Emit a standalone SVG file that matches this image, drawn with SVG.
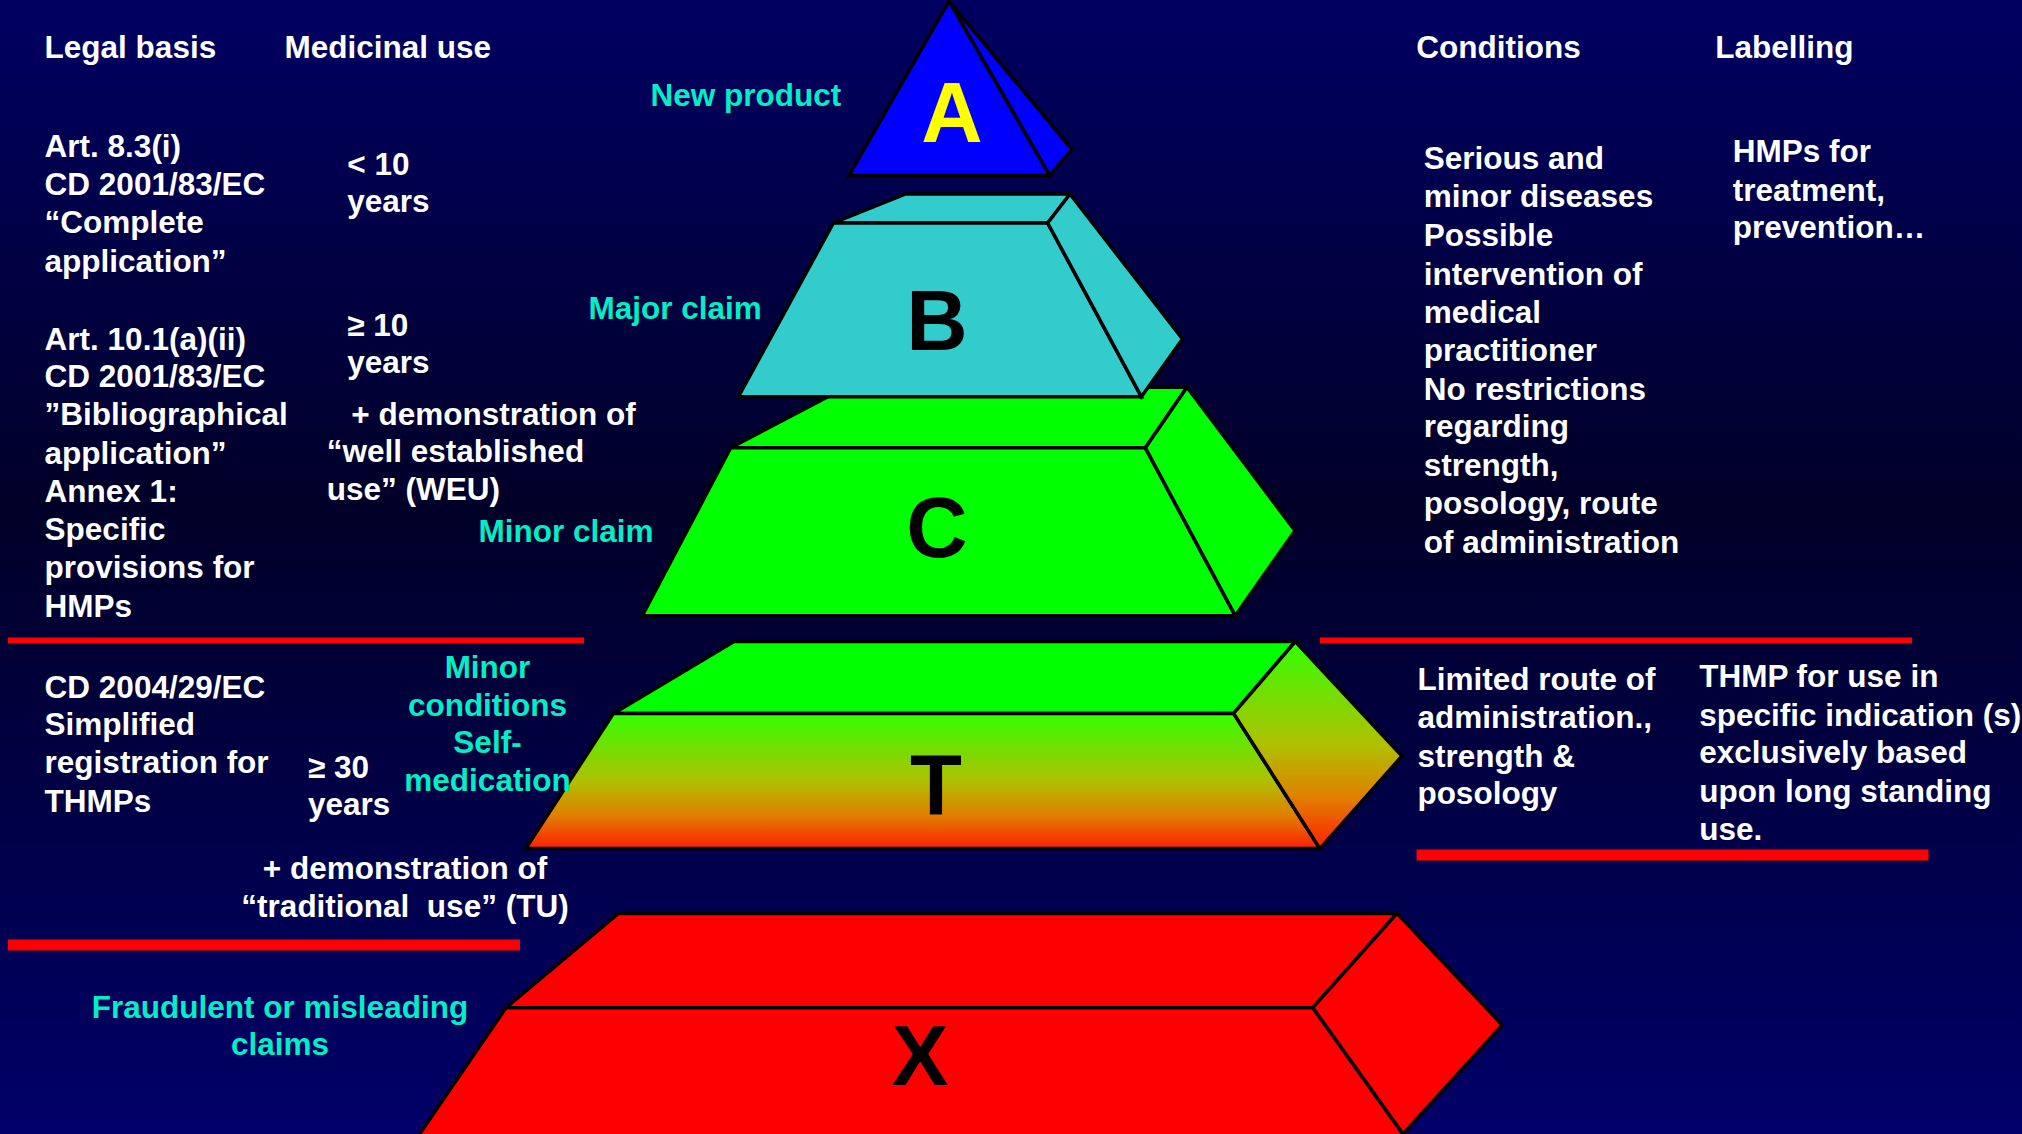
<svg xmlns="http://www.w3.org/2000/svg" width="2022" height="1134" viewBox="0 0 2022 1134">
<defs>
<linearGradient id="bg" x1="0" y1="0" x2="0" y2="1">
<stop offset="0" stop-color="#000062"/>
<stop offset="0.45" stop-color="#000028"/>
<stop offset="1" stop-color="#000068"/>
</linearGradient>
<linearGradient id="tg" x1="0" y1="0" x2="0" y2="1">
<stop offset="0" stop-color="#33ff00"/>
<stop offset="0.5" stop-color="#b0c000"/>
<stop offset="0.75" stop-color="#e08000"/>
<stop offset="1" stop-color="#ff2000"/>
</linearGradient>
<style>
.t{font-family:"Liberation Sans",Arial,sans-serif;font-weight:bold;font-size:31.5px;fill:#ffffff;white-space:pre}
.c{fill:#00eec8}
.m{text-anchor:middle}
.big{font-family:"Liberation Sans",Arial,sans-serif;font-weight:bold;font-size:85px;text-anchor:middle;fill:#000}
.sh{stroke:#000;stroke-width:3.5;stroke-linejoin:miter}
.red{fill:#ff0000}
</style>
</defs>
<rect width="2022" height="1134" fill="url(#bg)"/>

<g id="separators">
<rect class="red" x="8" y="637.5" width="576" height="6"/>
<rect class="red" x="8" y="939.5" width="512" height="11"/>
<rect class="red" x="1320" y="637.5" width="592" height="6"/>
<rect class="red" x="1416.5" y="849.5" width="512" height="11"/>
</g>

<g id="connectors"></g>

<g id="level-X">
<polygon class="sh" fill="#ff0000" points="506,1007.7 618.4,913.4 1397,913.4 1312.9,1007.7"/>
<polygon class="sh" fill="#ff0000" points="506,1007.7 1312.9,1007.7 1407.3,1140 415.5,1140"/>
<polygon class="sh" fill="#ff0000" points="1312.9,1007.7 1397,913.4 1502.3,1025 1403,1134"/>
<text class="big" x="920" y="1085">X</text>
</g>

<g id="level-T">
<polygon class="sh" fill="#00ff00" points="613.5,713.4 734,641.6 1295.3,641.6 1233.6,713.4"/>
<polygon class="sh" fill="url(#tg)" points="613.5,713.4 1233.6,713.4 1319.9,848.6 525.8,848.6"/>
<polygon class="sh" fill="url(#tg)" points="1233.6,713.4 1295.3,641.6 1402,756 1319.9,848.6"/>
<text class="big" x="936" y="814">T</text>
</g>

<g id="level-C">
<polygon class="sh" fill="#00ff00" points="730.7,447.8 846,387.2 1187,387.2 1145.4,447.8"/>
<polygon class="sh" fill="#00ff00" points="730.7,447.8 1145.4,447.8 1235.2,615.7 642.3,615.7"/>
<polygon class="sh" fill="#00ff00" points="1145.4,447.8 1187,387.2 1295,530.7 1235.2,615.7"/>
<text class="big" x="937" y="557">C</text>
</g>

<g id="level-B">
<polygon class="sh" fill="#33cccc" points="833.4,223 905.7,194 1070,194 1047.7,223"/>
<polygon class="sh" fill="#33cccc" points="833.4,223 1047.7,223 1141.4,396.8 738.3,396.8"/>
<polygon class="sh" fill="#33cccc" points="1047.7,223 1070,194 1182.5,339 1141.4,396.8"/>
<text class="big" x="937" y="349.5">B</text>
</g>

<g id="level-A">
<polygon class="sh" fill="#0000ff" points="949,1.2 1071.8,149.3 1049.5,175.4"/>
<polygon class="sh" fill="#0000ff" points="949,1.2 849,175.4 1049.5,175.4"/>
<text class="big" x="952" y="141.8" fill="#ffff00" style="fill:#ffff00">A</text>
</g>

<g id="headers">
<text class="t" x="44.6" y="58">Legal basis</text>
<text class="t" x="284.4" y="58">Medicinal use</text>
<text class="t" x="1416.2" y="58">Conditions</text>
<text class="t" x="1715.3" y="58">Labelling</text>
</g>

<g id="claim-labels">
<text class="t c" x="650.4" y="105.7">New product</text>
<text class="t c" x="588.4" y="319">Major claim</text>
<text class="t c" x="478.6" y="542.3">Minor claim</text>
<text class="t c m" x="487.5" y="677.7">Minor</text>
<text class="t c m" x="487.5" y="716">conditions</text>
<text class="t c m" x="487.5" y="753.3">Self-</text>
<text class="t c m" x="487.5" y="791">medication</text>
<text class="t c m" x="280" y="1018.3">Fraudulent or misleading</text>
<text class="t c m" x="280" y="1055">claims</text>
</g>

<g id="legal-basis">
<text class="t" x="44.6" y="156.7">Art. 8.3(i)</text>
<text class="t" x="44.6" y="194.9">CD 2001/83/EC</text>
<text class="t" x="44.6" y="233">“Complete</text>
<text class="t" x="44.6" y="271.6">application”</text>
<text class="t" x="44.6" y="350.3">Art. 10.1(a)(ii)</text>
<text class="t" x="44.6" y="386.8">CD 2001/83/EC</text>
<text class="t" x="44.6" y="425">”Bibliographical</text>
<text class="t" x="44.6" y="463.5">application”</text>
<text class="t" x="44.6" y="501.7">Annex 1:</text>
<text class="t" x="44.6" y="540">Specific</text>
<text class="t" x="44.6" y="577.5">provisions for</text>
<text class="t" x="44.6" y="617">HMPs</text>
<text class="t" x="44.6" y="697.7">CD 2004/29/EC</text>
<text class="t" x="44.6" y="735">Simplified</text>
<text class="t" x="44.6" y="773.3">registration for</text>
<text class="t" x="44.6" y="811.7">THMPs</text>
</g>

<g id="medicinal-use">
<text class="t" x="347.3" y="175">&lt; 10</text>
<text class="t" x="347.3" y="212.3">years</text>
<text class="t" x="347.3" y="335.8">≥ 10</text>
<text class="t" x="347.3" y="373">years</text>
<text class="t" x="351.3" y="425">+ demonstration of</text>
<text class="t" x="326.8" y="462.3">“well established</text>
<text class="t" x="326.8" y="499.6">use” (WEU)</text>
<text class="t" x="308" y="778.3">≥ 30</text>
<text class="t" x="308" y="815">years</text>
<text class="t m" x="405" y="879.3">+ demonstration of</text>
<text class="t m" x="405" y="916.7">“traditional  use” (TU)</text>
</g>

<g id="conditions">
<text class="t" x="1423.8" y="169.2">Serious and</text>
<text class="t" x="1423.8" y="207.3">minor diseases</text>
<text class="t" x="1423.8" y="245.9">Possible</text>
<text class="t" x="1423.8" y="284.8">intervention of</text>
<text class="t" x="1423.8" y="322.6">medical</text>
<text class="t" x="1423.8" y="360.7">practitioner</text>
<text class="t" x="1423.8" y="400">No restrictions</text>
<text class="t" x="1423.8" y="437.4">regarding</text>
<text class="t" x="1423.8" y="476">strength,</text>
<text class="t" x="1423.8" y="514">posology, route</text>
<text class="t" x="1423.8" y="552.7">of administration</text>
<text class="t" x="1417.4" y="690">Limited route of</text>
<text class="t" x="1417.4" y="728.3">administration.,</text>
<text class="t" x="1417.4" y="766.7">strength &amp;</text>
<text class="t" x="1417.4" y="804">posology</text>
</g>

<g id="labelling">
<text class="t" x="1732.7" y="161.7">HMPs for</text>
<text class="t" x="1732.7" y="201">treatment,</text>
<text class="t" x="1732.7" y="238.4">prevention…</text>
<text class="t" x="1699.2" y="687.3">THMP for use in</text>
<text class="t" x="1699.2" y="726">specific indication (s)</text>
<text class="t" x="1699.2" y="763.3">exclusively based</text>
<text class="t" x="1699.2" y="801.7">upon long standing</text>
<text class="t" x="1699.2" y="840">use.</text>
</g>
</svg>
